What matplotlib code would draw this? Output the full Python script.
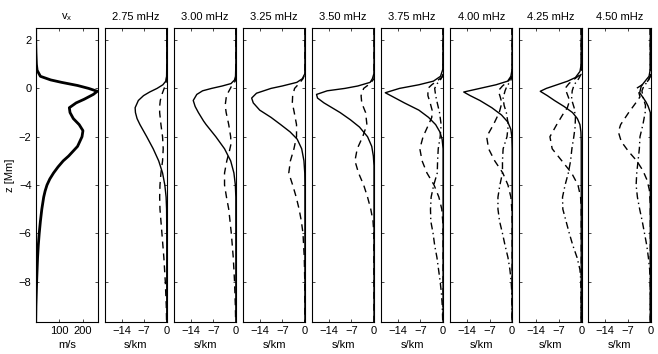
import numpy as np
import matplotlib
matplotlib.use('Agg')
import matplotlib.pyplot as plt

plt.rcParams['font.family'] = ['Liberation Sans', 'DejaVu Sans']
plt.rcParams['font.size'] = 8

titles = ['2.75 mHz', '3.00 mHz', '3.25 mHz', '3.50 mHz', '3.75 mHz',
          '4.00 mHz', '4.25 mHz', '4.50 mHz']

# flow profile v_x [m/s] versus height z [Mm]
z_vx = [2.5, 2, 1.5, 1, 0.75, 0.5, 0.35, 0.25, 0.12, 0, -0.12, -0.25, -0.45, -0.6, -0.8,
        -1, -1.25, -1.5, -1.75, -2, -2.4, -2.8, -3, -3.25, -3.5, -3.75, -4, -4.25, -4.5,
        -5, -5.5, -6, -6.5, -7, -8, -9, -9.7]
vx = [0, 0, 1, 3, 6, 20, 64, 110, 178, 225, 262, 245, 206, 172, 143,
      146, 160, 185, 201, 197, 178, 140, 117, 95, 76, 60, 48, 40, 34,
      26, 20, 15, 11, 8, 4, 1, 0]

# kernels [s/km]: solid, dashed, dash-dot for each frequency
z_275_s = [2.5, 1, 0.5, 0.3, 0.15, 0, -0.15, -0.3, -0.5, -0.8, -1, -1.25, -1.5, -2, -2.5, -3, -3.5, -4, -4.5, -5, -6, -9.7]
k_275_s = [0, 0, -0.05, -0.3, -1.2, -3.0, -5.3, -7.2, -8.8, -9.8, -9.7, -9.2, -8.3, -6.2, -4.2, -2.5, -1.3, -0.6, -0.2, -0.05, 0, 0]
z_275_d = [2.5, 0.5, 0.25, 0, -0.25, -0.5, -0.75, -1, -1.5, -2, -2.5, -3, -3.5, -4, -4.5, -5, -6, -7, -8, -9, -9.7]
k_275_d = [0, 0, -0.2, -0.8, -1.5, -2.0, -2.2, -2.2, -1.8, -1.3, -1.1, -1.3, -1.8, -2.1, -2.2, -2.1, -1.5, -0.9, -0.45, -0.15, -0.05]

z_300_s = [2.5, 1, 0.5, 0.35, 0.2, 0.1, 0, -0.1, -0.25, -0.5, -0.75, -1, -1.35, -1.5, -2, -2.5, -3, -3.5, -4, -4.5, -9.7]
k_300_s = [0, 0, -0.1, -0.4, -1.5, -4.2, -7.5, -10.3, -12.1, -13.2, -12.6, -11.6, -10.0, -9.2, -6.2, -3.5, -1.6, -0.6, -0.15, 0, 0]
z_300_d = [2.5, 0.5, 0.3, 0.1, -0.3, -0.7, -1, -1.5, -2, -2.3, -2.6, -3, -3.5, -4, -4.5, -5, -6, -7, -8, -9, -9.7]
k_300_d = [0, 0, -0.2, -1.3, -2.9, -3.3, -3.0, -2.2, -1.6, -1.5, -2.0, -2.8, -3.5, -3.5, -2.9, -2.2, -1.4, -0.8, -0.4, -0.15, -0.05]

z_325_s = [2.5, 0.8, 0.6, 0.4, 0.25, 0.1, 0, -0.2, -0.4, -0.6, -0.9, -1.2, -1.5, -1.8, -2.1, -2.5, -3, -3.5, -4, -9.7]
k_325_s = [0, 0, -0.05, -0.8, -2.5, -7, -10.5, -15, -16.5, -16, -14, -10.5, -7.5, -4.6, -2.4, -1.0, -0.3, -0.05, 0, 0]
z_325_d = [2.5, 0.6, 0.4, 0.2, 0, -0.3, -0.6, -1, -1.5, -2, -2.5, -3, -3.5, -4, -4.5, -5, -5.5, -6, -7, -8, -9.7]
k_325_d = [0, 0, -0.6, -1.8, -3.2, -3.8, -3.9, -3.3, -2.6, -2.6, -3.4, -4.5, -5.0, -3.8, -2.7, -1.8, -1.1, -0.6, -0.2, -0.05, 0]

z_350_s = [2.5, 0.8, 0.6, 0.4, 0.25, 0.1, 0, -0.1, -0.25, -0.4, -0.6, -0.8, -1, -1.3, -1.6, -2, -2.4, -2.8, -3.2, -9.7]
k_350_s = [0, 0, -0.05, -0.5, -1.2, -5, -9, -14.5, -17.8, -17.5, -15.5, -13, -10.5, -7.3, -4.5, -2.0, -0.7, -0.2, 0, 0]
z_350_d = [2.5, 0.4, 0.2, 0, -0.3, -0.6, -1, -1.5, -2, -2.5, -3, -3.5, -4, -4.5, -5, -5.5, -6, -9.7]
k_350_d = [0, 0, -1.2, -3.2, -4.0, -3.8, -2.6, -2.2, -3.5, -5.2, -5.9, -4.8, -3.2, -2.0, -1.0, -0.3, -0.05, 0]

z_375_s = [2.5, 0.8, 0.5, 0.3, 0.15, 0, -0.18, -0.35, -0.6, -0.9, -1.2, -1.5, -1.8, -2.1, -2.5, -9.7]
k_375_s = [0, -0.05, -0.8, -3.0, -7.5, -13.5, -17.9, -15.5, -12, -7.5, -4.5, -2.3, -1.0, -0.3, 0, 0]
z_375_d = [2.5, 0.5, 0.35, 0.15, 0, -0.3, -0.6, -0.9, -1.2, -1.5, -2, -2.5, -3, -3.5, -4, -4.5, -5, -5.5, -6, -9.7]
k_375_d = [0, 0, -1.5, -3.5, -4.7, -4.7, -4.0, -3.4, -3.5, -4.5, -6.2, -7.2, -6.5, -5.0, -2.8, -1.3, -0.4, -0.1, 0, 0]
z_375_c = [2.5, 0.6, 0.4, 0.2, 0, -0.3, -0.6, -1, -1.5, -2, -2.5, -3, -3.5, -4, -4.5, -5, -5.5, -6,
           -6.5, -7, -7.5, -8, -8.5, -9, -9.7]
k_375_c = [0, 0, -0.6, -1.8, -2.6, -2.3, -1.8, -1.1, -0.6, -0.9, -1.5, -1.7, -1.8, -2.9, -3.7, -3.9, -3.8, -3.1,
           -2.6, -1.9, -1.4, -0.9, -0.5, -0.25, -0.1]

z_400_s = [2.5, 0.8, 0.5, 0.3, 0.15, 0, -0.15, -0.3, -0.5, -0.8, -1.1, -1.4, -1.7, -2, -2.5, -9.7]
k_400_s = [0, 0, -0.4, -1.4, -5, -10, -15, -13, -10, -6.3, -3.3, -1.3, -0.4, -0.1, 0, 0]
z_400_d = [2.5, 0.5, 0.3, 0.1, -0.1, -0.35, -0.6, -1, -1.5, -2, -2.5, -3, -3.5, -4, -4.5, -5, -5.5, -9.7]
k_400_d = [0, 0, -1.2, -3.0, -4.3, -3.7, -3.2, -4.0, -5.8, -7.9, -7.3, -5.4, -2.9, -1.3, -0.4, -0.1, 0, 0]
z_400_c = [2.5, 0.5, 0.3, 0.1, -0.1, -0.4, -0.7, -1, -1.5, -2, -2.5, -3, -3.5, -4, -4.5, -5, -5.5, -6,
           -6.5, -7, -7.5, -8, -8.5, -9.7]
k_400_c = [0, 0, -0.5, -1.6, -2.2, -2.8, -2.5, -1.8, -1.2, -1.6, -2.8, -3.0, -3.0, -3.8, -4.4, -4.4, -3.9, -3.0,
           -2.2, -1.3, -0.7, -0.3, -0.1, 0]

z_425_s = [2.5, 1, 0.7, 0.45, 0.3, 0.15, 0, -0.12, -0.3, -0.5, -0.75, -1, -1.25, -1.5, -1.8, -2.2, -9.7]
k_425_s = [0, 0, -0.4, -1.8, -4.2, -7.5, -10.8, -12.7, -10.5, -8.3, -5.3, -2.7, -1.2, -0.4, -0.1, 0, 0]
z_425_d = [2.5, 0.6, 0.45, 0.2, 0, -0.25, -0.5, -0.8, -1.1, -1.5, -2, -2.5, -3, -3.5, -4, -4.5, -5, -9.7]
k_425_d = [0, 0, -1.5, -3.8, -5.0, -4.3, -3.6, -4.3, -5.8, -7.6, -9.7, -9.0, -6.0, -3.0, -1.0, -0.2, 0, 0]
z_425_c = [2.5, 0.6, 0.4, 0.15, -0.1, -0.45, -0.8, -1.2, -1.6, -2, -2.5, -3, -3.5, -4, -4.5, -5, -5.5,
           -6, -6.5, -7, -7.5, -8, -9.7]
k_425_c = [0, 0, -0.8, -2.2, -2.8, -3.0, -2.2, -1.8, -1.9, -2.3, -2.9, -3.3, -4.0, -5.0, -5.8, -5.7, -4.7,
           -3.7, -2.6, -1.3, -0.4, -0.1, 0]

z_450_s = [2.5, 0.8, 0.5, 0.37, 0.1, -0.18, -0.39, -0.55, -0.73, -1, -9.7]
k_450_s = [0, 0, -0.4, -1.2, -2.8, -3.3, -2.2, -1.4, -0.7, 0, 0]
z_450_d = [2.5, 0.5, 0.3, 0.15, 0, -0.15, -0.35, -0.6, -1, -1.5, -1.8, -2.2, -2.6, -3, -3.4, -3.8, -4.2, -4.8, -9.7]
k_450_d = [0, 0, -0.8, -2.5, -4.3, -3.6, -3.2, -4.5, -6.7, -9.2, -9.9, -9.0, -6.8, -4.2, -2.3, -1.0, -0.3, 0, 0]
z_450_c = [2.5, 0.5, 0.3, 0.1, -0.1, -0.35, -0.7, -1, -1.5, -2, -2.5, -3, -3.5, -4, -4.5, -5, -5.5, -6,
           -6.5, -7, -7.5, -8, -9.7]
k_450_c = [0, 0, -0.7, -2.0, -2.6, -2.3, -1.5, -1.6, -2.3, -3.2, -3.4, -3.8, -4.2, -4.4, -4.0, -3.3, -2.5, -1.8,
           -1.1, -0.6, -0.2, 0, 0]

kernels = [
    [(z_275_s, k_275_s, '-'), (z_275_d, k_275_d, '--')],
    [(z_300_s, k_300_s, '-'), (z_300_d, k_300_d, '--')],
    [(z_325_s, k_325_s, '-'), (z_325_d, k_325_d, '--')],
    [(z_350_s, k_350_s, '-'), (z_350_d, k_350_d, '--')],
    [(z_375_s, k_375_s, '-'), (z_375_d, k_375_d, '--'), (z_375_c, k_375_c, '-.')],
    [(z_400_s, k_400_s, '-'), (z_400_d, k_400_d, '--'), (z_400_c, k_400_c, '-.')],
    [(z_425_s, k_425_s, '-'), (z_425_d, k_425_d, '--'), (z_425_c, k_425_c, '-.')],
    [(z_450_s, k_450_s, '-'), (z_450_d, k_450_d, '--'), (z_450_c, k_450_c, '-.')],
]
dash_patterns = {'-': None, '--': (5, 3.6), '-.': (5, 2.5, 1, 2.5)}

W, H = 658, 354
fig = plt.figure(figsize=(W / 100, H / 100), dpi=100)


def style(ax):
    ax.set_ylim(-9.67, 2.5)
    ax.set_yticks([-8, -6, -4, -2, 0, 2])
    ax.tick_params(direction='in', top=True, right=True, length=2.5, width=0.5,
                   pad=3, labelsize=8)
    for sp in ax.spines.values():
        sp.set_linewidth(0.8)


axes = []
for i in range(9):
    ax = fig.add_axes([(35.7 + i * 69.08) / W, 32 / H, 62.3 / W, 294 / H])
    style(ax)
    axes.append(ax)

ax = axes[0]
ax.plot(vx, z_vx, color='k', lw=2.0)
ax.set_xlim(0, 265)
ax.set_xticks([100, 200])
ax.set_title(r'v$_\mathregular{x}$', fontsize=8, pad=6)
ax.set_xlabel('m/s', labelpad=2.5)
ax.set_ylabel('z [Mm]', labelpad=3)

for ax, ttl, curves in zip(axes[1:], titles, kernels):
    for zz, kk, ls in curves:
        line, = ax.plot(kk, zz, color='k', lw=1.0, linestyle=ls)
        if dash_patterns[ls] is not None:
            line.set_dashes(dash_patterns[ls])
    ax.set_xlim(-19.2, 0.1)
    ax.set_xticks([-14, -7, 0])
    ax.set_yticklabels([])
    ax.set_title(ttl, fontsize=8, pad=6)
    ax.set_xlabel('s/km', labelpad=2.5)

fig.savefig('out.png', dpi=100)
